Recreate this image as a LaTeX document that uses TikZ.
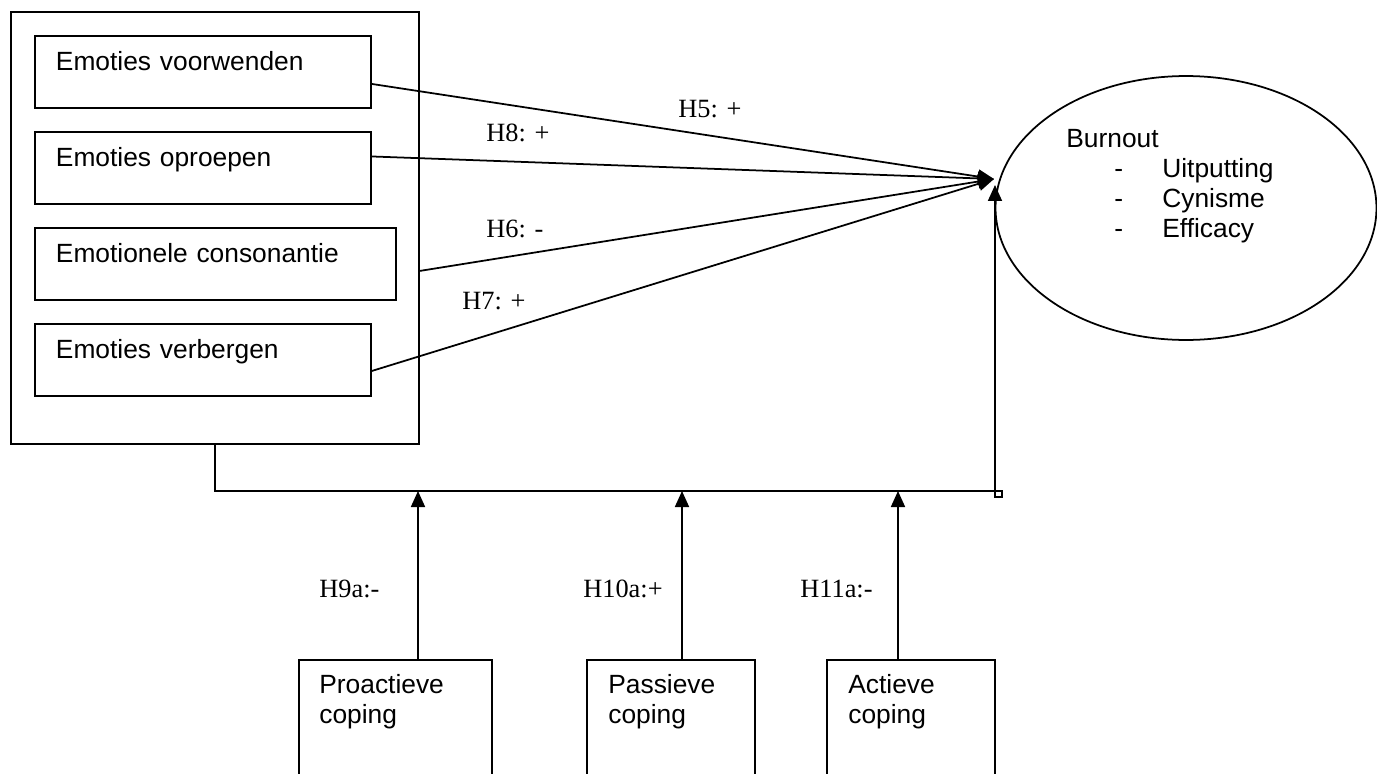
\documentclass[tikz,border=0pt]{standalone}
\usepackage{fontspec}
\setmainfont{Liberation Sans}
\newfontfamily\hypfont{Liberation Serif}
\usetikzlibrary{arrows.meta,shapes.geometric}

\tikzset{
  emobox/.style={draw, line width=1.1pt, anchor=north west, align=left, inner xsep=0.42cm, inner ysep=0pt, text height=0.7cm, text depth=0.74cm},
  copebox/.style={draw, line width=1.1pt, anchor=north west, minimum height=3cm, inner sep=0pt},
  plaintext/.style={anchor=north west, align=left, inner sep=0pt},
  hyplabel/.style={anchor=base west, inner sep=0pt, font=\hypfont\fontsize{15}{18}\selectfont},
  effect/.style={line width=1pt, -{Triangle[length=0.32cm,width=0.28cm]}},
}

\begin{document}
\begin{tikzpicture}[x=0.02cm, y=-0.02cm, font=\fontsize{15}{17}\selectfont]
\clip (0,0) rectangle (1377,774);

% emotional labour strategies
\node[draw, line width=1.1pt, anchor=north west, minimum width=8.16cm, minimum height=8.64cm, inner sep=0pt] (emogroup) at (10,11) {};
\node[emobox, text width=5.88cm] (voorwenden) at (34,35) {Emoties voorwenden};
\node[emobox, text width=5.88cm] (oproepen) at (34,131) {Emoties oproepen};
\node[emobox, text width=6.38cm] (consonantie) at (34,227) {Emotionele consonantie};
\node[emobox, text width=5.88cm] (verbergen) at (34,323) {Emoties verbergen};

% burnout
\node[draw, ellipse, line width=1pt, minimum width=7.62cm, minimum height=5.28cm, inner sep=0pt] (burnout) at (1186,208) {};
\node[plaintext] (burnlist) at (1066,129) {Burnout\\
  \hspace*{0.96cm}\makebox[0.96cm][l]{-}Uitputting\\
  \hspace*{0.96cm}\makebox[0.96cm][l]{-}Cynisme\\
  \hspace*{0.96cm}\makebox[0.96cm][l]{-}Efficacy};

\coordinate (tip) at (994,179);
\coordinate (corner) at (995,491);
\coordinate (tip2) at (995,185);

% direct effects
\draw[effect] ([yshift=-0.24cm]voorwenden.east) -- (tip);
\draw[effect] ([yshift=0.23cm]oproepen.east) -- (tip);
\draw[effect] ([yshift=-0.86cm]emogroup.east) -- (tip);
\draw[effect] ([yshift=-0.22cm]verbergen.east) -- (tip);

\node[hyplabel] (h5) at (678,117) {H5: +};
\node[hyplabel] (h8) at (486,141) {H8: +};
\node[hyplabel] (h6) at (486,237) {H6: -};
\node[hyplabel] (h7) at (462,309) {H7: +};

% moderation line
\draw[line width=1pt] (emogroup.south) |- (corner);
\draw[effect] (corner) -- (tip2);
\draw[line width=0.8pt] (corner) rectangle ++(7,6);

% coping
\node[copebox, minimum width=3.86cm] (proactief) at (298,659) {};
\node[copebox, minimum width=3.36cm] (passief) at (586,659) {};
\node[copebox, minimum width=3.36cm] (actief) at (826,659) {};
\node[plaintext] (proactieftxt) at (319,674) {Proactieve\\coping};
\node[plaintext] (passieftxt) at (608,674) {Passieve\\coping};
\node[plaintext] (actieftxt) at (848,674) {Actieve\\coping};

\coordinate (m9) at (418,491);
\coordinate (m10) at (682,491);
\coordinate (m11) at (898,491);
\draw[effect] (proactief.north -| m9) -- (m9);
\draw[effect] (passief.north -| m10) -- (m10);
\draw[effect] (actief.north -| m11) -- (m11);

\node[hyplabel] (h9a) at (319,597) {H9a:-};
\node[hyplabel] (h10a) at (583,597) {H10a:+};
\node[hyplabel] (h11a) at (800,597) {H11a:-};
\end{tikzpicture}
\end{document}
